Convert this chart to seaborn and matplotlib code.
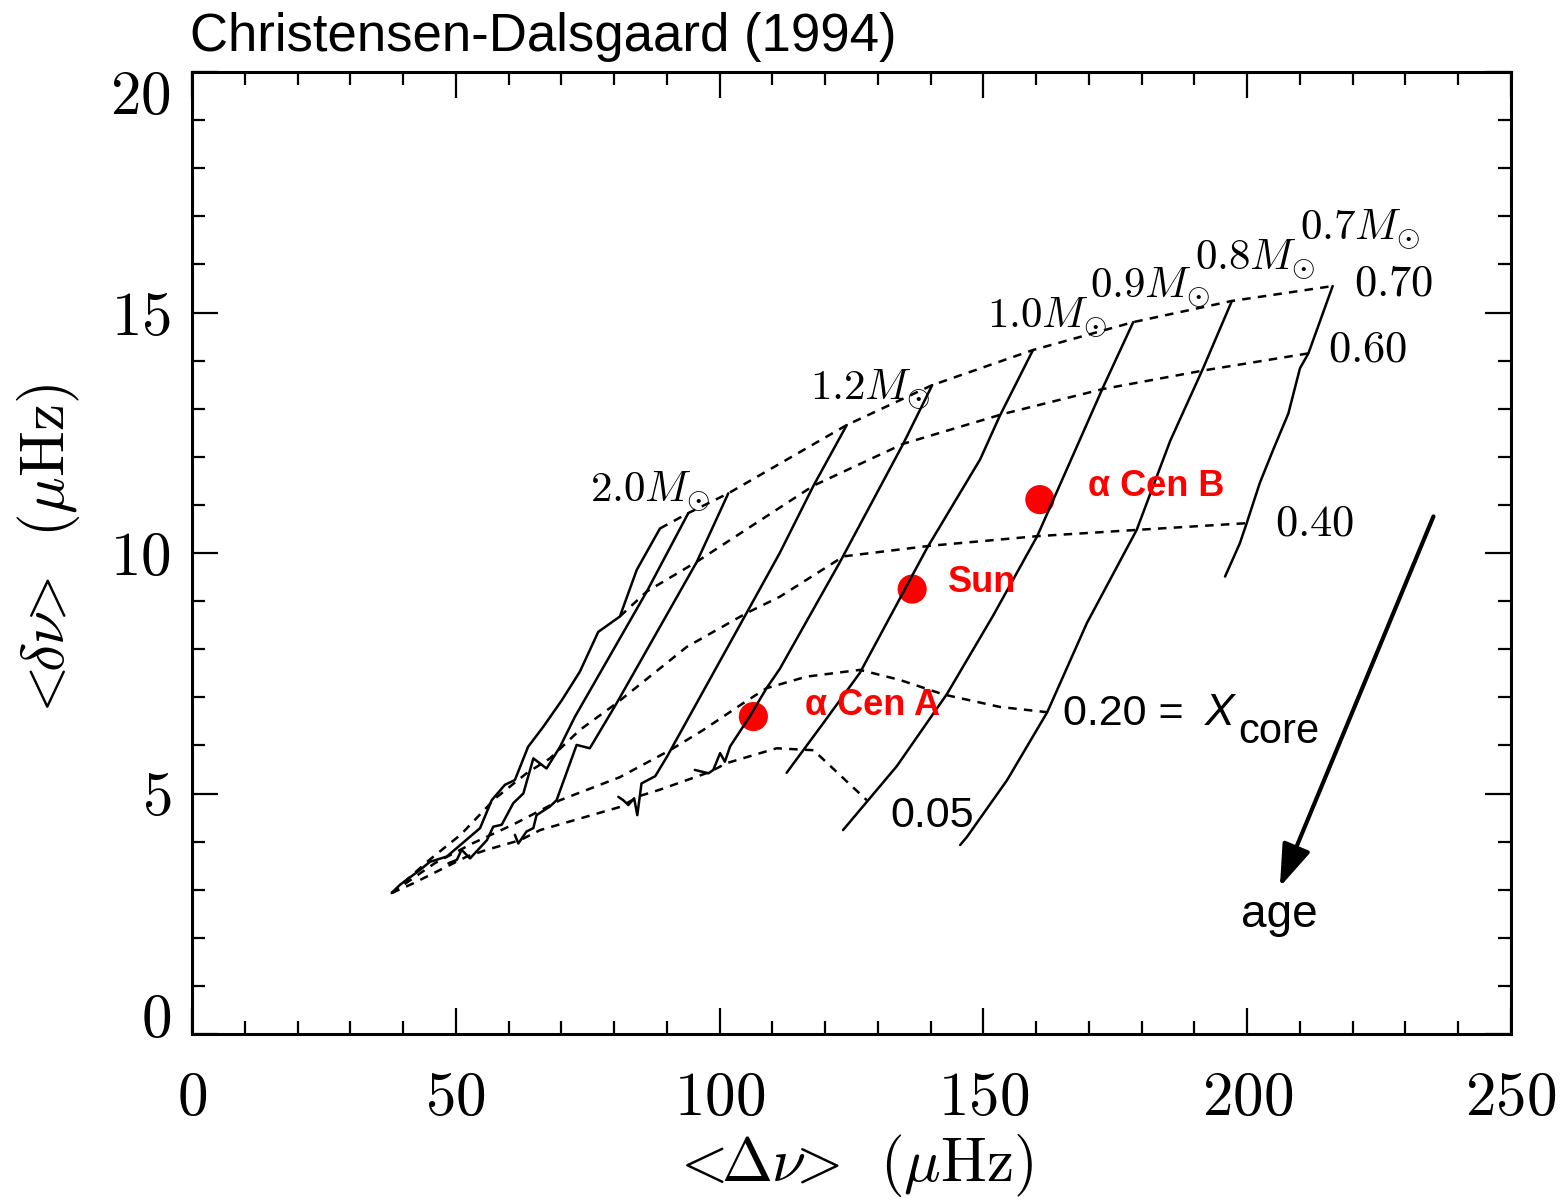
import matplotlib
matplotlib.use("Agg")
import matplotlib.pyplot as plt
import seaborn as sns
import pandas as pd
from matplotlib.ticker import MultipleLocator, FuncFormatter
from matplotlib.transforms import ScaledTranslation

# ---------------- data: evolution tracks (<Delta nu>, <delta nu>) ----------------
trk1_x = [216.2, 211.6, 210.0, 207.8, 204.9, 202.4, 199.9, 198.6, 195.8]
trk1_y = [15.55, 14.15, 13.84, 12.90, 12.14, 11.46, 10.62, 10.20, 9.51]
trk2_x = [197.1, 191.6, 185.4, 179.05, 169.6, 162.1, 154.5, 146.9, 145.6]
trk2_y = [15.24, 13.83, 12.33, 10.48, 8.54, 6.69, 5.28, 4.10, 3.93]
trk3_x = [178.4, 172.7, 160.2, 151.8, 143.1, 133.6, 123.4]
trk3_y = [14.80, 13.45, 10.35, 8.69, 7.07, 5.57, 4.24]
trk4_x = [159.4, 153.1, 149.4, 139.3, 126.6, 119.7, 112.7]
trk4_y = [14.22, 12.85, 11.95, 10.10, 7.51, 6.47, 5.43]
trk5_x = [140.3, 134.8, 122.8, 111.4, 108.9, 105.7, 102.0, 101.0, 100.1, 98.8, 97.9, 95.3]
trk5_y = [13.49, 12.27, 9.81, 7.59, 7.19, 6.60, 5.98, 5.66, 5.84, 5.49, 5.42, 5.49]
trk6_x = [124.1, 117.8, 111.4, 105.1, 90.0, 87.8, 85.2, 84.4, 83.8, 82.7, 81.75, 80.8]
trk6_y = [12.66, 11.40, 10.00, 8.75, 5.76, 5.36, 5.21, 4.55, 4.90, 4.76, 4.86, 4.93]
trk7_x = [101.65, 95.7, 80.5, 75.4, 72.9, 69.1, 67.85, 65.3, 64.7, 63.4, 61.85, 61.2]
trk7_y = [11.24, 9.82, 6.88, 5.94, 6.01, 4.86, 4.73, 4.55, 4.28, 4.21, 3.96, 4.14]
trk8_x = [94.07, 86.2, 72.6, 69.75, 67.2, 64.7, 62.8, 60.9, 58.7, 57.1, 55.9, 52.7, 51.1, 50.2, 48.6]
trk8_y = [10.83, 9.20, 6.60, 5.97, 5.52, 5.73, 5.00, 4.80, 4.35, 4.31, 4.03, 3.65, 3.83, 3.62, 3.55]
trk9_x = [88.7, 84.3, 81.1, 77.0, 73.5, 70.1, 66.6, 63.7, 61.2, 59.3, 56.8, 54.6, 48.3, 45.1, 43.2, 39.4, 37.85]
trk9_y = [10.51, 9.65, 8.68, 8.36, 7.53, 6.94, 6.39, 5.97, 5.28, 5.18, 4.86, 4.28, 3.69, 3.58, 3.41, 3.10, 2.93]

# ---------------- data: lines of constant central hydrogen X_core ----------------
iso70_x = [88.7, 94.07, 101.65, 124.1, 140.3, 159.4, 178.4, 197.1, 216.2]
iso70_y = [10.51, 10.83, 11.24, 12.66, 13.49, 14.22, 14.80, 15.24, 15.55]
iso60_x = [81.1, 86.2, 95.7, 117.8, 134.8, 153.7, 172.7, 192.0, 211.6]
iso60_y = [8.68, 9.20, 9.82, 11.40, 12.27, 12.89, 13.41, 13.80, 14.15]
iso40_x = [37.85, 45.0, 51.0, 57.5, 63.4, 67.85, 73.5, 80.5, 93.8, 105.1, 111.4, 123.5, 139.9, 160.2, 179.05, 199.9]
iso40_y = [2.93, 3.62, 4.15, 4.90, 5.42, 5.73, 6.32, 6.88, 8.05, 8.75, 9.09, 9.93, 10.15, 10.35, 10.48, 10.62]
iso20_x = [37.85, 46.0, 53.3, 60.8, 69.75, 81.1, 90.6, 96.9, 104.5, 108.9, 116.5, 126.6, 134.2, 142.4, 153.1, 162.1]
iso20_y = [2.93, 3.55, 3.97, 4.35, 4.86, 5.34, 5.90, 6.32, 6.88, 7.19, 7.43, 7.57, 7.36, 7.06, 6.80, 6.69]
iso05_x = [37.85, 41.9, 47.0, 52.1, 55.9, 62.2, 66.0, 70.4, 74.8, 81.1, 84.9, 88.7, 98.2, 101.3, 110.8, 117.8, 127.9]
iso05_y = [2.93, 3.13, 3.41, 3.69, 3.83, 4.03, 4.24, 4.38, 4.52, 4.72, 4.95, 5.08, 5.45, 5.63, 5.94, 5.90, 4.86]

# ---------------- data: observed stars ----------------
star_names = ["\u03b1 Cen A", "Sun", "\u03b1 Cen B"]
star_dnu = [106.4, 136.5, 160.7]
star_sep = [6.60, 9.25, 11.11]

# ---------------- labels ----------------
mass_labels = [r"$0.7M_{\odot}$", r"$0.8M_{\odot}$", r"$0.9M_{\odot}$",
               r"$1.0M_{\odot}$", r"$1.2M_{\odot}$", r"$2.0M_{\odot}$"]
xcore_labels = ["0.70", "0.60", "0.40"]
x_ticks = [0, 50, 100, 150, 200, 250]
y_ticks = [0, 5, 10, 15, 20]

# ---------------- style ----------------
sns.set_theme(style="white")
plt.rcParams["font.family"] = ["Liberation Sans", "DejaVu Sans"]
plt.rcParams["mathtext.fontset"] = "cm"
plt.rcParams["axes.unicode_minus"] = False
for k in ["text.color", "axes.labelcolor", "xtick.color", "ytick.color",
          "axes.edgecolor"]:
    plt.rcParams[k] = "black"

W, H = 1567, 1201
fig = plt.figure(figsize=(W / 100, H / 100), dpi=100)
ax = fig.add_axes([192 / W, 1 - 1034 / H, (1511 - 192) / W, (1034 - 72) / H])

tracks = [trk1_x, trk2_x, trk3_x, trk4_x, trk5_x, trk6_x, trk7_x, trk8_x, trk9_x]
tracks_y = [trk1_y, trk2_y, trk3_y, trk4_y, trk5_y, trk6_y, trk7_y, trk8_y, trk9_y]
rows = []
for i, (xs, ys) in enumerate(zip(tracks, tracks_y)):
    rows += [(i, x, y) for x, y in zip(xs, ys)]
df_tr = pd.DataFrame(rows, columns=["track", "dnu", "sep"])

isos = [(iso70_x, iso70_y), (iso60_x, iso60_y), (iso40_x, iso40_y),
        (iso20_x, iso20_y), (iso05_x, iso05_y)]
rows = []
for i, (xs, ys) in enumerate(isos):
    rows += [(i, x, y) for x, y in zip(xs, ys)]
df_iso = pd.DataFrame(rows, columns=["iso", "dnu", "sep"])

# stars (under the lines)
sns.scatterplot(x=star_dnu, y=star_sep, color="#ff0000", s=440, edgecolor="none",
                linewidth=0, ax=ax, zorder=1.5, legend=False)

sns.lineplot(data=df_tr, x="dnu", y="sep", units="track", estimator=None, sort=False,
             color="black", lw=1.8, ax=ax, legend=False, zorder=3)
sns.lineplot(data=df_iso, x="dnu", y="sep", units="iso", estimator=None, sort=False,
             color="black", lw=1.8, linestyle=(0, (3.4, 2.9)), ax=ax, legend=False,
             zorder=3)

# ---------------- axes ----------------
ax.set_xlim(0, 250)
ax.set_ylim(0, 20)
ax.set_xticks(x_ticks)
ax.set_yticks(y_ticks)
ax.xaxis.set_minor_locator(MultipleLocator(10))
ax.yaxis.set_minor_locator(MultipleLocator(1))
fmt = FuncFormatter(lambda v, p: r"$%d$" % int(round(v)))
ax.xaxis.set_major_formatter(fmt)
ax.yaxis.set_major_formatter(fmt)
ax.tick_params(which="both", direction="in", top=True, right=True, bottom=True,
               left=True, width=1.6, color="black", labelcolor="black", labelsize=44)
ax.tick_params(which="major", length=19)
ax.tick_params(which="minor", length=9.5)
ax.tick_params(axis="x", which="major", pad=27)
ax.tick_params(axis="y", which="major", pad=15)
for s in ax.spines.values():
    s.set_visible(True)
    s.set_color("black")
    s.set_linewidth(2.2)

yt = ax.yaxis.get_major_ticks()
yt[0].label1.set_transform(yt[0].label1.get_transform() +
                           ScaledTranslation(0, 0.19, fig.dpi_scale_trans))
yt[-1].label1.set_transform(yt[-1].label1.get_transform() +
                            ScaledTranslation(0, -0.20, fig.dpi_scale_trans))

ax.set_xlabel(r"$<\!\!\Delta\nu\!\!>\ \,(\mu{\rm Hz})$", fontsize=44, color="black")
ax.set_ylabel(r"$<\!\!\delta\nu\!\!>\ \,(\mu{\rm Hz})$", fontsize=44, color="black")
ax.xaxis.set_label_coords(0.5, (1034 - 1132) / 962)
ax.xaxis.label.set_va("top")
ax.yaxis.set_label_coords((48 - 192) / 1319, 0.5)
ax.yaxis.label.set_va("center")

fig.text(190 / W, 1 - 51 / H, "Christensen-Dalsgaard (1994)", fontsize=38,
         ha="left", va="baseline", color="black")

# ---------------- annotations ----------------
mass_pos = [(210.1, 16.51), (190.1, 15.88), (170.2, 15.30), (150.7, 14.68),
            (117.1, 13.18), (75.4, 11.06)]
for lab, (x, y) in zip(mass_labels, mass_pos):
    ax.text(x, y, lab, fontsize=31, ha="left", va="baseline", color="black")

xcore_pos = [(220.2, 15.36), (215.3, 13.98), (205.3, 10.37)]
for lab, (x, y) in zip(xcore_labels, xcore_pos):
    ax.text(x, y, r"$%s$" % lab, fontsize=32, ha="left", va="baseline", color="black")

ax.text(165.1, 6.42, "0.20 =", fontsize=31, ha="left", va="baseline")
ax.text(192.0, 6.42, "X", fontsize=32, style="italic", ha="left", va="baseline")
ax.text(198.3, 6.04, "core", fontsize=30, ha="left", va="baseline")
ax.text(132.3, 4.30, "0.05", fontsize=31, ha="left", va="baseline")
ax.text(198.9, 2.23, "age", fontsize=33, ha="left", va="baseline")

star_lab_pos = [(116.2, 6.64), (143.35, 9.18), (169.9, 11.19)]
for lab, (x, y) in zip(star_names, star_lab_pos):
    ax.text(x, y, lab, fontsize=26, fontweight="bold", color="#ff0000",
            ha="left", va="baseline")

ax.annotate("", xy=(206.2, 3.06), xytext=(235.3, 10.76),
            arrowprops=dict(arrowstyle="-|>,head_length=1.3,head_width=0.45",
                            lw=3, color="black", mutation_scale=20,
                            shrinkA=0, shrinkB=0))

fig.savefig("out.png", dpi=100, facecolor="white")
